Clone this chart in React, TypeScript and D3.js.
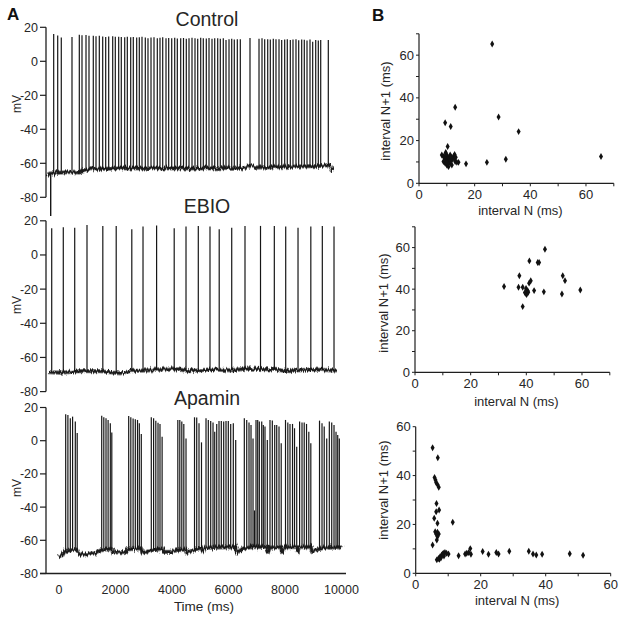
import React from 'react';
import * as d3 from 'd3';

const FONT = "'Liberation Sans', Arial, Helvetica, sans-serif";
const INK = '#1f1f1f';
const TXT = '#262626';

// ---- axis ticks ----
const mvTicks = [20, 0, -20, -40, -60, -80];
const timeTicks = [0, 2000, 4000, 6000, 8000, 10000];
const traceTitles = ['Control', 'EBIO', 'Apamin'];

// ---- spike trains: [time ms, peak mV] ----
const controlSpikes: [number, number][] = [
  [-188, 16], [-46, 15.2], [81, 14], [460, 14.3],
  [719, 15.6], [814, 15.3], [956, 15.4], [1062, 15.1], [1214, 15], [1310, 14.7], [1427, 15], [1547, 14.6],
  [1653, 14.3], [1759, 14.6], [1901, 14.8], [1993, 14.5], [2113, 14.4], [2205, 14.3], [2326, 14.2], [2418, 14.5],
  [2538, 14.2], [2630, 14.3], [2750, 14], [2843, 14.2], [2938, 14.4], [3055, 14], [3150, 13.6], [3257, 14],
  [3363, 14.2], [3480, 13.5], [3575, 13.8], [3671, 14.1], [3788, 13.6], [3883, 13.7], [3990, 13.5], [4096, 13.9],
  [4188, 13.4], [4308, 13.6], [4407, 13.7], [4506, 13.3], [4602, 13.5], [4708, 13.9], [4814, 13.6], [4910, 13.2],
  [5016, 13.8], [5108, 13.5], [5214, 13.4], [5310, 13.7], [5416, 13.2], [5512, 13.5], [5618, 13.6], [5710, 13.3],
  [5816, 13.5], [5912, 12.6], [6018, 13], [6114, 13.2], [6205, 12.8], [6312, 13], [6418, 13],
  [6761, 13.7],
  [7080, 13.2], [7186, 13.5], [7281, 13], [7388, 13], [7480, 12.8], [7586, 13.3], [7681, 13], [7788, 12.9],
  [7883, 12.5], [7989, 12.8], [8081, 13], [8188, 12.6], [8283, 12.8], [8389, 12.9], [8485, 12.4], [8591, 12.8],
  [8683, 12.7], [8779, 12.2], [8885, 12.8], [8980, 11.5], [9087, 12.5], [9179, 12.3], [9264, 12.5],
  [9533, 12.6],
];
const controlBaseline: [number, number][] = [
  [-425, -67], [-319, -66], [-296, -66], [35, -65.5], [566, -65], [700, -65.5],
  [1097, -63.5], [2159, -63], [3221, -63], [4283, -63], [5345, -63], [6407, -62.5], [6520, -63],
  [6761, -61.5], [7000, -62.5], [8177, -62], [9239, -61.5], [9558, -61], [9650, -63.5], [9700, -64],
];
// initial artefact of the control recording: [time ms, from mV, to mV]
const controlArtefact: [number, number, number][] = [[-294, -66, -91]];

const ebioSpikes: [number, number][] = [
  [-258, 15.6], [152, 16.2], [556, 16], [991, 17.5], [1551, 17], [2025, 17], [2577, 15], [2974, 16.6],
  [3455, 17.3], [4078, 15.6], [4496, 16.6], [4931, 17], [5345, 16.6], [5671, 15], [6114, 16], [6584, 17],
  [7133, 17], [7622, 17], [8025, 16.6], [8461, 16], [8914, 16.6], [9321, 17], [9735, 16.6],
];
const ebioBaseline: [number, number][] = [
  [-389, -68.5], [35, -69], [743, -68], [1451, -68], [2159, -69.3], [2513, -68], [3221, -67.5], [4000, -66.5],
  [4637, -68], [5345, -67], [6053, -67.5], [6761, -66.5], [7469, -67], [8177, -68], [8885, -67],
  [9593, -67.5], [9876, -67.5],
];

const apaminSpikes: [number, number][] = [
  [237, 16], [315, 15.5], [400, 13.5], [481, 14.5], [577, 11.5], [644, 4.7],
  [1512, 15], [1586, 14.1], [1664, 13.5], [1738, 12.5], [1816, 10.5], [1869, 5],
  [2467, 14.9], [2542, 14.1], [2623, 13.3], [2701, 12.9], [2779, 12.5], [2843, 10.5], [2913, 4],
  [3267, 14.1], [3349, 13.5], [3427, 12], [3505, 10.8], [3575, 10], [3650, 2.4],
  [4206, 12.5], [4276, 12.5], [4347, 11.5], [4418, 10], [4496, 1.4],
  [4797, 14.1], [4875, 14], [4956, 10.5], [5044, -1],
  [5204, 13.5], [5285, 12.5], [5370, 11.9], [5452, 10.9], [5512, 5.4], [5583, 10.1], [5664, 11.9],
  [5745, 11.9], [5830, 11.5], [5912, 11.9], [5993, 11.9], [6078, 10.1], [6170, 10.5], [6255, 0.4],
  [6560, 13.5], [6645, 12.5], [6726, 10.9], [6797, 9.5], [6868, 1.4], [6921, -42], [6974, 12.5],
  [7034, 12.5], [7091, 11.5], [7176, 11.5], [7232, 9.5], [7292, 8.5], [7374, 0.4],
  [7469, 12.5], [7551, 12.1], [7636, 9.5], [7707, 9.5], [7788, 8.5], [7866, -1.6],
  [8018, 12.5], [8100, 10.9], [8177, 10.1], [8266, 10.1], [8337, 7.5], [8415, -3.6],
  [8517, 11.5], [8602, 10.9], [8680, 10.9], [8762, 10.1], [8843, 5.4], [8914, -1.6],
  [9222, 12.1], [9310, 10.5], [9388, 8.5], [9477, 1.4],
  [9569, 11.5], [9654, 10.9], [9735, 9.5], [9806, 5.4], [9866, 3.4], [9923, 1.4],
];
const apaminBaseline: [number, number][] = [
  [0, -70], [106, -69], [212, -66.5], [637, -65.5], [708, -68], [920, -68.5], [1274, -67.8], [1487, -66],
  [1876, -65], [1912, -67.5], [2336, -67], [2443, -65.5], [2903, -64.8], [2938, -67.3], [3221, -66.5],
  [3646, -64.8], [3682, -67], [3929, -67], [4177, -66], [4496, -65.5], [4531, -67.5], [4744, -66],
  [5027, -64.5], [5098, -66.5], [5168, -64.5], [6266, -64], [6301, -67.5], [6513, -65], [6867, -64],
  [6974, -64], [7363, -63.8], [7399, -67], [7469, -64.5], [7859, -64], [7894, -67], [8000, -64],
  [8425, -64], [8461, -66.5], [8496, -64], [8921, -64], [8956, -66.5], [9169, -65.5], [9487, -64],
  [9558, -64.5], [9912, -64], [9983, -65],
];

// ---- interval return maps: [interval N, interval N+1] (ms) ----
const controlIntervals: [number, number][] = [
  [26.3, 65.2], [13, 35.6], [28.6, 31], [9.4, 28.4], [11.4, 26.6], [35.8, 24.2], [10.3, 17.2], [9.6, 14.4],
  [31.2, 11.3], [24.4, 9.8], [16.9, 9.1], [65.4, 12.5],
  [8.2, 13.3], [8.8, 12.5], [9.4, 11.7], [10, 10.9], [10.6, 10.2], [11.2, 9.4], [10, 8.6], [9.4, 9.4],
  [8.8, 10.2], [10.3, 12.5], [11, 11.7], [11.8, 10.9], [12.4, 12.5], [13, 10.2], [13.6, 9.8], [14.2, 9.8],
  [11.8, 8.6], [10.6, 7.8], [11.2, 13.3], [12.2, 11.7], [9.7, 13.8], [10.1, 11.5], [10.8, 10.8], [9.2, 12.2],
  [12.8, 11.3], [11.5, 12.3], [10.4, 9.5], [9.9, 10.1], [12.8, 13.5], [13.2, 12.2],
];
const ebioIntervals: [number, number][] = [
  [46.7, 59.2], [41.1, 53.6], [44.1, 52.8], [44.6, 52.8], [37.5, 46.4], [53.1, 46.4], [53.9, 44.1],
  [41.6, 44], [41, 42.9], [32, 41.3], [37.2, 40.9], [38.7, 40.9], [39.9, 40.3], [40.5, 39.2], [42.8, 39.3],
  [46.3, 38.7], [39.8, 38], [40.1, 37.4], [39.5, 38.4], [52.8, 37.7], [59.4, 39.6], [38.7, 31.6], [40.7, 38.5],
];
const apaminIntervals: [number, number][] = [
  [5.2, 51.4], [6.8, 47.3], [5.8, 39.2], [6.1, 38.2], [6.3, 37.2], [6.7, 36.3], [7.1, 35.2], [6.4, 28.6],
  [6.3, 25.2], [7.2, 25.9], [5.7, 22.5], [6.7, 20.5], [11.4, 20.9], [6, 17], [6.7, 16.8], [7.1, 16.1],
  [6.3, 16.1], [6.7, 15], [6.5, 13.6], [5.2, 11.6],
  [6.5, 5.5], [7, 6.1], [7.5, 6.8], [8, 7.5], [8.5, 8.2], [9, 8.5], [9.5, 8.2], [10.1, 7.9], [7.3, 5.7],
  [7.8, 6.4], [8.7, 7.1], [8.3, 7.8],
  [13.2, 7.2], [15.2, 7.9], [15.7, 8.2], [16.3, 8.5], [16.8, 10.1], [17, 7.8], [20.6, 8.9], [22.4, 7.8],
  [24.8, 8.5], [25.5, 7.9], [28.8, 9], [34.8, 9], [36.1, 7.9], [37.1, 7.5], [38.9, 7.8], [47.4, 8], [51.5, 7.4],
];

// ---- layout ----
const xTime = d3.scaleLinear().domain([0, 10000]).range([59, 341.5]);
const AXIS_X = 46;

const tracePanels = [
  { spikes: controlSpikes, base: controlBaseline, artefacts: controlArtefact, top: 27.3, bottom: 197.3, titleY: 26, mvY: 104 },
  { spikes: ebioSpikes, base: ebioBaseline, artefacts: [], top: 220.8, bottom: 391.6, titleY: 213, mvY: 305 },
  { spikes: apaminSpikes, base: apaminBaseline, artefacts: [], top: 407.5, bottom: 573.5, titleY: 405, mvY: 488 },
];

const scatterPanels = [
  { data: controlIntervals, x0: 419, x1: 613.8, xMax: 70, y0: 183.3, y1: 33.8, yMax: 70, xTitleY: 215, yTitleX: 390, yTitleY: 111 },
  { data: ebioIntervals, x0: 415, x1: 609.8, xMax: 70, y0: 372.3, y1: 226.8, yMax: 70, xTitleY: 406, yTitleX: 388, yTitleY: 303 },
  { data: apaminIntervals, x0: 415.7, x1: 610.7, xMax: 60, y0: 573.3, y1: 426.7, yMax: 60, xTitleY: 605, yTitleX: 388, yTitleY: 490 },
];

function TracePanel({ p, idx, showX }: { p: any; idx: number; showX: boolean }) {
  const y = d3.scaleLinear().domain([-80, 20]).range([p.bottom, p.top]);
  const baseFn = d3.scaleLinear().domain(p.base.map((d: number[]) => d[0])).range(p.base.map((d: number[]) => d[1])).clamp(true);
  const line = d3.line<[number, number]>().x((d) => xTime(d[0])).y((d) => y(d[1]));
  const d = line(p.base) || '';
  return (
    <g>
      <text x={207} y={p.titleY} textAnchor="middle" fontSize={19.5} fill={TXT}>{traceTitles[idx]}</text>
      <line x1={AXIS_X} x2={AXIS_X} y1={p.top} y2={p.bottom} stroke={INK} strokeWidth={1.3} />
      {mvTicks.map((t) => (
        <g key={t}>
          <line x1={AXIS_X - 6} x2={AXIS_X} y1={y(t)} y2={y(t)} stroke={INK} strokeWidth={1.2} />
          <text x={AXIS_X - 8} y={y(t)} dy="0.36em" textAnchor="end" fontSize={12.5} fill={TXT}>{t}</text>
        </g>
      ))}
      <text transform={`translate(21,${p.mvY}) rotate(-90)`} textAnchor="middle" fontSize={12} fill={TXT}>mV</text>
      <g filter="url(#noisy)">
        <path d={d} fill="none" stroke="#3a3a3a" strokeWidth={4.4} strokeOpacity={0.6} strokeLinejoin="round" />
        <path d={d} fill="none" stroke={INK} strokeWidth={2.6} strokeLinejoin="round" />
      </g>
      {p.artefacts.map((a: number[], i: number) => (
        <line key={'a' + i} x1={xTime(a[0])} x2={xTime(a[0])} y1={y(a[1])} y2={y(a[2])} stroke="#161616" strokeWidth={1.4} />
      ))}
      {p.spikes.map((s: number[], i: number) => (
        <line key={i} x1={xTime(s[0])} x2={xTime(s[0])} y1={y(baseFn(s[0]))} y2={y(s[1])} stroke="#161616" strokeWidth={1.2} />
      ))}
      {showX && (
        <g>
          <line x1={AXIS_X - 6} x2={346} y1={p.bottom} y2={p.bottom} stroke={INK} strokeWidth={1.3} />
          {timeTicks.map((t) => (
            <text key={t} x={xTime(t)} y={p.bottom + 20.5} textAnchor="middle" fontSize={12.5} fill={TXT}>{t}</text>
          ))}
          <text x={204} y={p.bottom + 37} textAnchor="middle" fontSize={13.5} fill={TXT}>Time (ms)</text>
        </g>
      )}
    </g>
  );
}

function ScatterPanel({ p }: { p: any }) {
  const x = d3.scaleLinear().domain([0, p.xMax]).range([p.x0, p.x1]);
  const y = d3.scaleLinear().domain([0, p.yMax]).range([p.y0, p.y1]);
  const xt = d3.range(0, p.xMax + 1, 10);
  const yt = d3.range(0, p.yMax + 1, 10);
  const sym = d3.symbol(d3.symbolDiamond, 14)() || '';
  return (
    <g>
      <line x1={p.x0} x2={p.x1} y1={p.y0} y2={p.y0} stroke={INK} strokeWidth={1.2} />
      <line x1={p.x0} x2={p.x0} y1={p.y0} y2={p.y1} stroke={INK} strokeWidth={1.2} />
      {xt.map((t: number) => (
        <g key={'x' + t}>
          <line x1={x(t)} x2={x(t)} y1={p.y0} y2={p.y0 + 3} stroke={INK} strokeWidth={1} />
          {t % 20 === 0 && (
            <text x={x(t)} y={p.y0 + 16} textAnchor="middle" fontSize={13} fill={TXT}>{t}</text>
          )}
        </g>
      ))}
      {yt.map((t: number) => (
        <g key={'y' + t}>
          <line x1={p.x0 - 3} x2={p.x0} y1={y(t)} y2={y(t)} stroke={INK} strokeWidth={1} />
          {t % 20 === 0 && (
            <text x={p.x0 - 5} y={y(t)} dy="0.35em" textAnchor="end" fontSize={13} fill={TXT}>{t}</text>
          )}
        </g>
      ))}
      <text x={(p.x0 + p.x1) / 2 + 4} y={p.xTitleY} textAnchor="middle" fontSize={13} fill={TXT}>interval N (ms)</text>
      <text transform={`translate(${p.yTitleX},${p.yTitleY}) rotate(-90)`} textAnchor="middle" fontSize={13} fill={TXT}>interval N+1 (ms)</text>
      {p.data.map((d: number[], i: number) => (
        <path key={i} d={sym} transform={`translate(${x(d[0])},${y(d[1])})`} fill="#111" />
      ))}
    </g>
  );
}

export default function App() {
  return (
    <svg width={624} height={622} viewBox="0 0 624 622" style={{ position: 'absolute', left: 0, top: 0, background: '#fff' }} fontFamily={FONT}>
      <defs>
        <filter id="noisy" filterUnits="userSpaceOnUse" x={0} y={0} width={624} height={622}>
          <feTurbulence type="fractalNoise" baseFrequency="0.9 0.08" numOctaves={2} seed={3} result="t" />
          <feDisplacementMap in="SourceGraphic" in2="t" scale={6} xChannelSelector="R" yChannelSelector="G" />
        </filter>
      </defs>
      <rect width={624} height={622} fill="#fff" />
      <text x={7} y={20} fontSize={17} fontWeight="bold" fill="#111">A</text>
      <text x={372} y={21} fontSize={17} fontWeight="bold" fill="#111">B</text>
      {tracePanels.map((p, i) => (
        <TracePanel key={i} p={p} idx={i} showX={i === 2} />
      ))}
      {scatterPanels.map((p, i) => (
        <ScatterPanel key={i} p={p} />
      ))}
    </svg>
  );
}
